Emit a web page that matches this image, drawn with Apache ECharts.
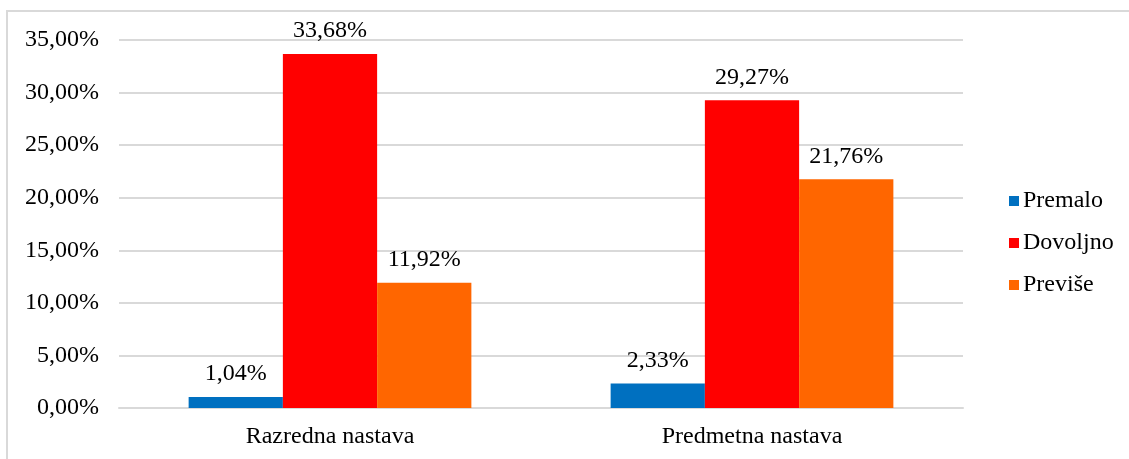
<!DOCTYPE html>
<html>
<head>
<meta charset="utf-8">
<script src="https://cdn.jsdelivr.net/npm/echarts@6/dist/echarts.min.js"></script>
<style>
  html, body { margin: 0; padding: 0; background: #fff; }
  #chart { width: 1129px; height: 459px; }
</style>
</head>
<body>
<div id="chart"></div>
<script>
// Share of answers per teaching level (percent)
const categories = ['Razredna nastava', 'Predmetna nastava'];
const seriesNames = ['Premalo', 'Dovoljno', 'Previše'];
const premalo = [1.04, 2.33];
const dovoljno = [33.68, 29.27];
const previse = [11.92, 21.76];
const colors = ['#0070C0', '#FF0000', '#FF6600'];

const fmt = v => v.toFixed(2).replace('.', ',') + '%';
const font = 'Liberation Serif, Times New Roman, serif';
const fs = 24;

const chart = echarts.init(document.getElementById('chart'));
const valueSets = [premalo, dovoljno, previse];

chart.setOption({
  animation: false,
  textStyle: { fontFamily: font },
  graphic: [{
    type: 'rect',
    shape: { x: 7, y: 11, width: 1400, height: 700 },
    style: { fill: 'none', stroke: '#D9D9D9', lineWidth: 2 },
    silent: true
  }],
  grid: { left: 119, right: 166, top: 40, bottom: 51 },
  legend: {
    orient: 'vertical',
    left: 1004,
    top: 184,
    icon: 'rect',
    itemWidth: 10,
    itemHeight: 10,
    itemGap: 18,
    textStyle: { fontFamily: font, fontSize: fs, color: '#000', padding: [0, 0, 0, -1] },
    data: seriesNames
  },
  xAxis: {
    type: 'category',
    data: categories,
    axisTick: { show: false },
    axisLine: { lineStyle: { color: '#D9D9D9', width: 2 } },
    axisLabel: { color: '#000', fontFamily: font, fontSize: fs, margin: 17 }
  },
  yAxis: {
    type: 'value',
    min: 0,
    max: 35,
    interval: 5,
    axisLine: { show: false },
    axisTick: { show: false },
    splitLine: { lineStyle: { color: '#D9D9D9', width: 2 } },
    axisLabel: { color: '#000', fontFamily: font, fontSize: fs, margin: 20, formatter: fmt }
  },
  series: seriesNames.map((name, i) => ({
    name,
    type: 'bar',
    data: valueSets[i],
    barGap: '0%',
    barCategoryGap: '33%',
    itemStyle: { color: colors[i] },
    label: {
      show: true,
      position: 'top',
      distance: 11,
      color: '#000',
      fontFamily: font,
      fontSize: fs,
      formatter: p => fmt(p.value)
    }
  }))
});
</script>
</body>
</html>
